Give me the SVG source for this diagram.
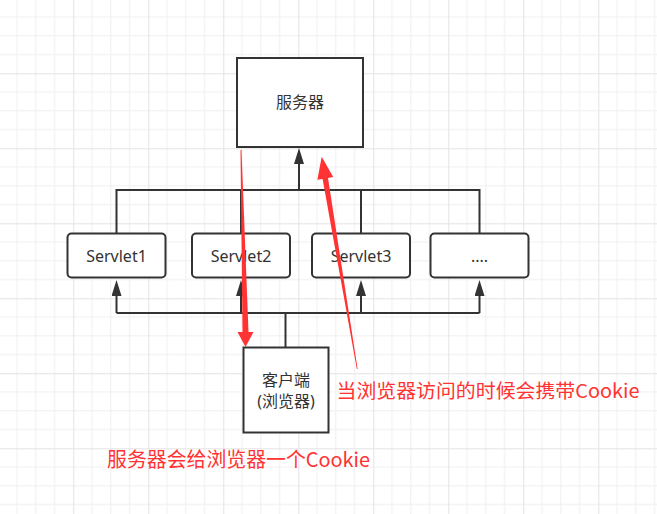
<svg xmlns="http://www.w3.org/2000/svg" width="657" height="514" viewBox="0 0 657 514">
<defs>
<pattern id="grid" patternUnits="userSpaceOnUse" x="-1.7" y="-1.7" width="75" height="75">
<path d="M18.75,0V75M37.5,0V75M56.25,0V75M0,18.75H75M0,37.5H75M0,56.25H75" stroke="#efefef" stroke-width="1" fill="none"/>
<path d="M0.5,0V75M0,0.5H75" stroke="#e3e3e3" stroke-width="1" fill="none"/>
</pattern>
<marker id="ah" viewBox="0 0 16 10" refX="8" refY="5" markerWidth="16" markerHeight="10" markerUnits="userSpaceOnUse" orient="auto">
<path d="M0,0L16,5L0,10z" fill="#333"/>
</marker>
<style>
.box{fill:#fff;stroke:#333;stroke-width:2}
.lbl{font-family:"Noto Sans","Noto Sans CJK SC",sans-serif;font-size:16px;fill:#333;text-anchor:middle}
.conn{fill:none;stroke:#333;stroke-width:2}
.red{font-family:"Noto Sans CJK SC","Noto Sans",sans-serif;fill:#ff3333}
</style>
</defs>
<rect width="657" height="514" fill="#fff"/>
<rect width="657" height="514" fill="url(#grid)"/>
<g id="connectors">
<path class="conn" d="M116.5,233V190H479.5V233M241,233V190M361,233V190"/>
<path class="conn" d="M299,190V156" marker-end="url(#ah)"/>
<path class="conn" d="M285.5,347V313M116.5,313H479.5"/>
<path class="conn" d="M116.5,313V288" marker-end="url(#ah)"/>
<path class="conn" d="M241,313V288" marker-end="url(#ah)"/>
<path class="conn" d="M361,313V288" marker-end="url(#ah)"/>
<path class="conn" d="M479.5,313V288" marker-end="url(#ah)"/>
</g>
<g id="server"><rect class="box" x="237" y="58" width="126" height="89"/><text class="lbl" x="300" y="108">服务器</text></g>
<g id="servlet1"><rect class="box" x="67.5" y="233.5" width="98" height="44" rx="4"/><text class="lbl" x="116.5" y="262">Servlet1</text></g>
<g id="servlet2"><rect class="box" x="192" y="233.5" width="98" height="44" rx="4"/><text class="lbl" x="241" y="262">Servlet2</text></g>
<g id="servlet3"><rect class="box" x="312" y="233.5" width="98" height="44" rx="4"/><text class="lbl" x="361" y="262">Servlet3</text></g>
<g id="more"><rect class="box" x="430.5" y="233.5" width="98" height="44" rx="4"/><text class="lbl" x="479.5" y="262">....</text></g>
<g id="client"><rect class="box" x="243.5" y="347.5" width="85" height="85"/><text class="lbl" x="286" y="386" font-size="15">客户端</text><text class="lbl" x="286" y="407" font-size="15">(浏览器)</text></g>
<g id="red-arrows">
<polygon fill="#ff3333" points="240.5,150 241.5,150 248.5,332 253.5,332 245.5,347 237.5,332 242.5,332"/>
<polygon fill="#ff3333" points="357.6,369 328,178 333.2,177.1 321.7,156.7 317.4,179.7 322.6,178.9 356.8,369"/>
</g>
<g id="notes">
<text class="red" x="336.5" y="398" font-size="19" textLength="303" lengthAdjust="spacingAndGlyphs">当浏览器访问的时候会携带Cookie</text>
<text class="red" x="107" y="467" font-size="20" textLength="263" lengthAdjust="spacingAndGlyphs">服务器会给浏览器一个Cookie</text>
</g>
</svg>
